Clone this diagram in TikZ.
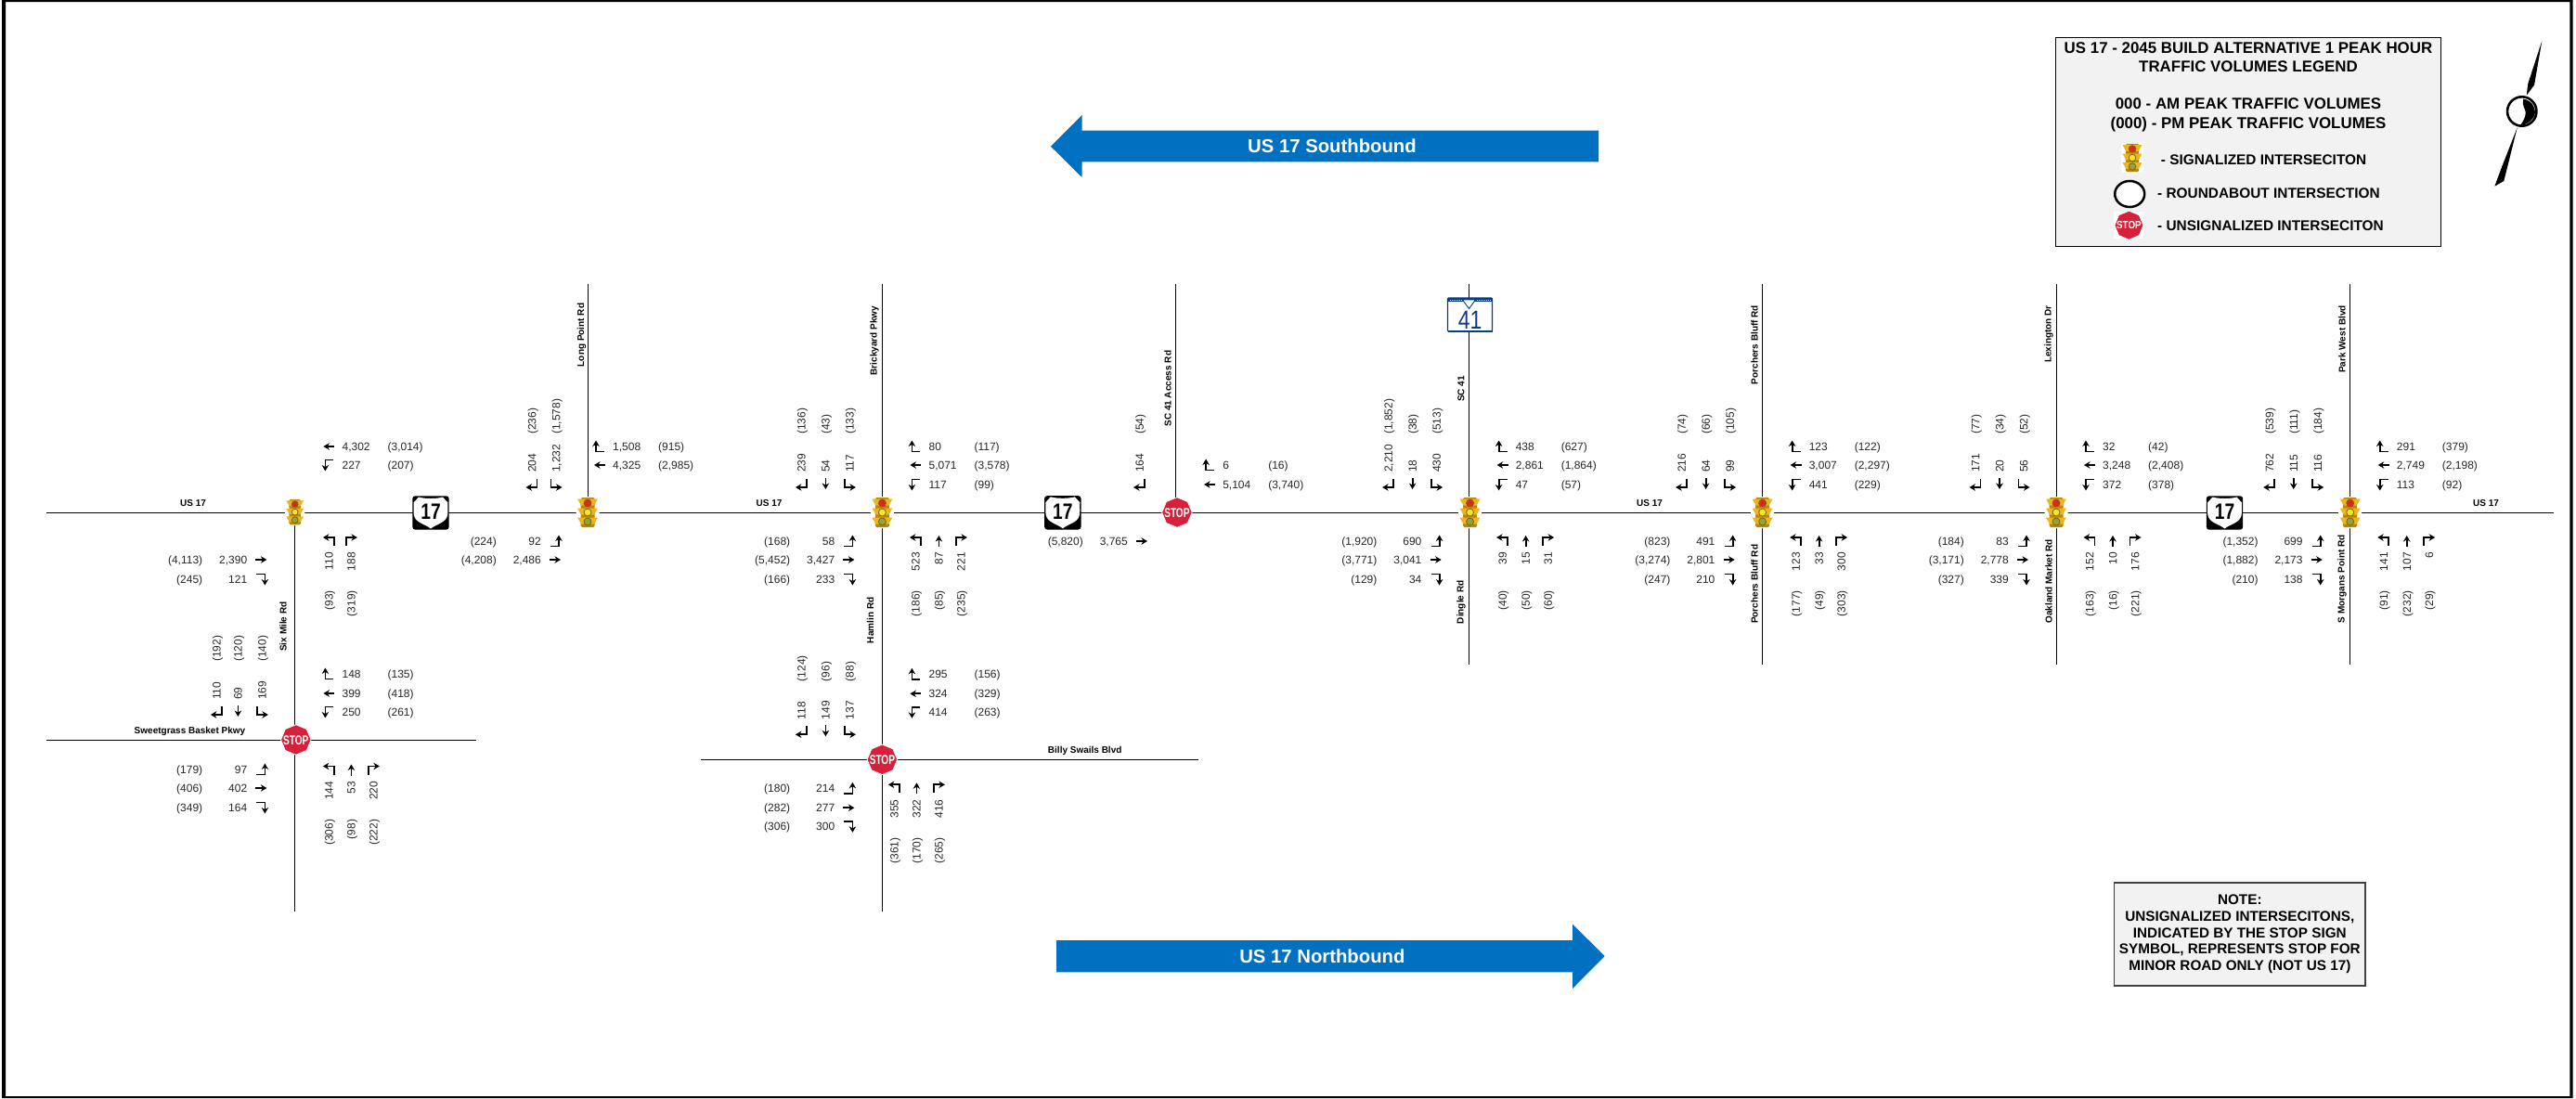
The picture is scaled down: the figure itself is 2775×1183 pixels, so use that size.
\documentclass[tikz,border=0pt]{standalone}
\usepackage{fontspec}
\setmainfont{Liberation Sans}
\usepackage{tikz}
\usetikzlibrary{arrows.meta,shapes.geometric}
\usepackage{xcolor}
\definecolor{usblue}{HTML}{0070C0}
\definecolor{boxgray}{HTML}{F2F2F2}
\definecolor{stopred}{HTML}{D9203A}
\definecolor{scblue}{HTML}{0B3C82}
\definecolor{siggold}{HTML}{EDB51C}
\definecolor{sigdark}{HTML}{B8860F}
\definecolor{sigred}{HTML}{E2231F}
\definecolor{sigyel}{HTML}{F2E62A}
\definecolor{siggrn}{HTML}{8CA63A}
\newcounter{lbl}
\newcommand{\stopword}[1]{\raisebox{-0.36em}[0pt][0pt]{\makebox[0pt]{\scalebox{#1}[1]{STOP}}}}
\tikzset{
pics/mvL/.style={code={\draw[mv] (5.5,5) -- (5.5,-4) -- (-6.5,-4);}},
pics/mvT/.style={code={\draw[mv] (0,6) -- (0,-6);}},
pics/mvR/.style={code={\draw[mv] (-5.5,5) -- (-5.5,-4) -- (6.5,-4);}},
pics/signal/.style={code={
\fill[white,rounded corners=3pt] (-12.5,-17) rectangle (12.5,17);
\foreach \yy/\lamp in {-10/sigred,0/sigyel,10/siggrn}{
\fill[sigdark,rounded corners=1.5pt] (-7.5,\yy-6) rectangle (7.5,\yy+6);
\fill[siggold] (-11,\yy-4.5) -- (11,\yy-4.5) -- (7,\yy+2.5) -- (-7,\yy+2.5) -- cycle;
\fill[\lamp,draw=sigdark!70!black,line width=0.8pt] (0,\yy) circle (4pt);
}}},
pics/usshield/.style={code={
\fill[black,rounded corners=3pt] (-19.7,-18.2) rectangle (19.7,18.2);
\fill[white] (-13,-17) .. controls (-7,-15) and (7,-15) .. (13,-17) -- (18.5,-11) .. controls (18,-6) and (19,-1) .. (18,3) .. controls (16,11) and (6,12) .. (0,17) .. controls (-6,12) and (-16,11) .. (-18,3) .. controls (-19,-1) and (-18,-6) .. (-18.5,-11) -- cycle;
\node[inner sep=0pt,font=\fontsize{24}{24}\selectfont\bfseries,xscale=0.8] (-num) at (0,-1) {17};
}},
pics/scshield/.style={code={
\draw[scblue,fill=white,line width=1.2pt,rounded corners=1pt] (-24,-18) rectangle (24,18);
\fill[scblue] (-24,-18) rectangle (24,-14);
\fill[scblue] (-24,16.5) rectangle (24,18.5);
\draw[white,line width=1pt,dash pattern=on 1pt off 1pt] (-22,-16) -- (-9,-16);
\draw[white,line width=1pt,dash pattern=on 1pt off 1pt] (7,-16) -- (22,-16);
\draw[scblue,fill=white,line width=0.9pt] (-8,-16) -- (6,-16) -- (-1,-6.5) -- cycle;
\node[inner sep=0pt,text=scblue,font=\fontsize{28}{28}\selectfont,xscale=0.82] (-num) at (0,6) {41};
}}
}
\newcommand{\wbrow}[5]{
\pic[rotate=90] at (#1,#2) {mv#3};
\stepcounter{lbl}\node[vol,anchor=west] (am\thelbl) at (#1+14,#2) {#4};
\node[vol,anchor=west] (pm\thelbl) at (#1+63,#2) {#5};
}
\newcommand{\ebrow}[5]{
\pic[rotate=-90] at (#1,#2) {mv#3};
\stepcounter{lbl}\node[vol,anchor=east] (am\thelbl) at (#1-15,#2) {#4};
\node[vol,anchor=east] (pm\thelbl) at (#1-63,#2) {#5};
}
\newcommand{\sbcol}[4]{
\pic[rotate=180] at (#1,-31) {mv#2};
\stepcounter{lbl}\node[vol,rotate=90,anchor=west] (am\thelbl) at (#1,-43) {#3};
\node[vol,rotate=90,anchor=west] (pm\thelbl) at (#1,-84) {#4};
}
\newcommand{\nbcol}[4]{
\pic at (#1,31) {mv#2};
\stepcounter{lbl}\node[vol,rotate=90,anchor=east] (am\thelbl) at (#1,43) {#3};
\node[vol,rotate=90,anchor=east] (pm\thelbl) at (#1,84) {#4};
}
\begin{document}
\begin{tikzpicture}[x=1pt,y=-1pt,>={Stealth[length=6.5pt,width=7.5pt]},line cap=butt,
mv/.style={->,line width=1.8pt,black},
road/.style={line width=1.3pt,black},
vol/.style={inner sep=0pt,text height=8.6pt,text depth=0pt,text=black!85,font=\fontsize{12}{14}\selectfont},
streetname/.style={inner sep=0pt,font=\fontsize{10}{12}\selectfont\bfseries},
sidename/.style={streetname,rotate=90},
stopsign/.style={regular polygon,regular polygon sides=8,shape border rotate=22.5,minimum size=32.5pt,inner sep=0pt,fill=stopred,draw=white,line width=0.8pt,text=white,font=\fontsize{14}{14}\selectfont\bfseries},
boxed/.style={fill=boxgray,line width=1.5pt,inner sep=0pt},
bigarrow/.style={fill=usblue},
bigname/.style={inner sep=0pt,text=white,font=\fontsize{20.3}{22}\selectfont\bfseries},
legline/.style={inner sep=0pt,align=center,font=\fontsize{16.9}{20.5}\selectfont\bfseries},
legitem/.style={inner sep=0pt,anchor=west,font=\fontsize{15.4}{17}\selectfont\bfseries}]
\useasboundingbox (0,0) rectangle (2775,1183);
\fill[black,even odd rule] (2,0) rectangle (2771.7,1183) (6,2) rectangle (2768.3,1181);
\coordinate (usW) at (50,552.5);
\coordinate (usE) at (2751,552.5);
\coordinate (sweetW) at (50,797.5);
\coordinate (sweetE) at (512.5,797.5);
\coordinate (billyW) at (755,818.5);
\coordinate (billyE) at (1290.6,818.5);
\draw[road] (usW) -- (usE);
\draw[road] (sweetW) -- (sweetE);
\draw[road] (billyW) -- (billyE);
\draw[road] (317.5,552) -- (317.5,982);
\draw[road] (633.5,306) -- (633.5,552);
\draw[road] (950.5,306) -- (950.5,982);
\draw[road] (1266.5,306) -- (1266.5,552);
\draw[road] (1582.5,306) -- (1582.5,716);
\draw[road] (1898.5,306) -- (1898.5,716);
\draw[road] (2215.5,306) -- (2215.5,716);
\draw[road] (2531.5,306) -- (2531.5,716);
\fill[bigarrow] (1131.9,157.7) -- (1165.5,124) -- (1165.5,140.7) -- (1722,140.7) -- (1722,174.3) -- (1165.5,174.3) -- (1165.5,191) -- cycle;
\node[bigname] (sbname) at (1435,157.7) {US 17 Southbound};
\fill[bigarrow] (1138.2,1013) -- (1694,1013) -- (1694,995.7) -- (1728.7,1030) -- (1694,1065) -- (1694,1047.3) -- (1138.2,1047.3) -- cycle;
\node[bigname] (nbname) at (1424.4,1030.7) {US 17 Northbound};
\pic[scale=0.85] (sigA) at (317.7,551.7) {signal};
\pic (sigB) at (633,552) {signal};
\pic (sigC) at (950.4,552) {signal};
\pic (sigD) at (1583.5,552) {signal};
\pic (sigE) at (1898.6,552) {signal};
\pic (sigF) at (2215,552) {signal};
\pic (sigG) at (2531.7,552) {signal};
\node[stopsign] (stopA) at (318.8,797) {\stopword{0.72}};
\node[stopsign] (stopB) at (950.4,818.3) {\stopword{0.72}};
\node[stopsign] (stopC) at (1267.9,552) {\stopword{0.72}};
\pic (shieldA) at (464,552.5) {usshield};
\pic (shieldB) at (1144.8,552.3) {usshield};
\pic (shieldC) at (2396.5,552.5) {usshield};
\pic (shieldD) at (1583.5,339) {scshield};
\node[streetname] (usA) at (208,542) {US 17};
\node[streetname] (usB) at (828.6,542) {US 17};
\node[streetname] (usC) at (1777,542) {US 17};
\node[streetname] (usD) at (2678,542) {US 17};
\node[streetname] (sweet) at (204.5,787.7) {Sweetgrass Basket Pkwy};
\node[streetname] (billy) at (1168.7,808.5) {Billy Swails Blvd};
\node[sidename] (sixmile) at (305,675) {Six Mile Rd};
\node[sidename] (longpoint) at (626.6,361) {Long Point Rd};
\node[sidename] (brickyard) at (942,367) {Brickyard Pkwy};
\node[sidename] (hamlin) at (937.5,668.3) {Hamlin Rd};
\node[sidename] (access) at (1258,418.7) {SC 41 Access Rd};
\node[sidename] (sc) at (1574,419) {SC 41};
\node[sidename] (dingle) at (1574,648.8) {Dingle Rd};
\node[sidename] (porchN) at (1890,371.5) {Porchers Bluff Rd};
\node[sidename] (porchS) at (1890,629.3) {Porchers Bluff Rd};
\node[sidename] (lexington) at (2207,360) {Lexington Dr};
\node[sidename] (oakland) at (2207,626.3) {Oakland Market Rd};
\node[sidename] (parkwest) at (2523,365.5) {Park West Blvd};
\node[sidename] (morgans) at (2523,623.8) {S Morgans Point Rd};
\begin{scope}[shift={(317.4,552)}]
\wbrow{37}{-71}{T}{4,302}{(3,014)}
\wbrow{37}{-51}{L}{227}{(207)}
\ebrow{-36}{51}{T}{2,390}{(4,113)}
\ebrow{-36}{72}{R}{121}{(245)}
\nbcol{37}{L}{110}{(93)}
\nbcol{61}{R}{188}{(319)}
\end{scope}
\begin{scope}[shift={(633,552)}]
\wbrow{13}{-71}{R}{1,508}{(915)}
\wbrow{13}{-51}{T}{4,325}{(2,985)}
\ebrow{-35}{31}{L}{92}{(224)}
\ebrow{-35}{51}{T}{2,486}{(4,208)}
\sbcol{-60}{R}{204}{(236)}
\sbcol{-34}{L}{1,232}{(1,578)}
\end{scope}
\begin{scope}[shift={(950.4,552)}]
\wbrow{36}{-71}{R}{80}{(117)}
\wbrow{36}{-51}{T}{5,071}{(3,578)}
\wbrow{36}{-30}{L}{117}{(99)}
\ebrow{-36}{31}{L}{58}{(168)}
\ebrow{-36}{51}{T}{3,427}{(5,452)}
\ebrow{-36}{72}{R}{233}{(166)}
\sbcol{-87}{R}{239}{(136)}
\sbcol{-61}{T}{54}{(43)}
\sbcol{-35}{L}{117}{(133)}
\nbcol{36}{L}{523}{(186)}
\nbcol{61}{T}{87}{(85)}
\nbcol{85}{R}{221}{(235)}
\end{scope}
\begin{scope}[shift={(950.4,818.3)}]
\wbrow{36}{-92}{R}{295}{(156)}
\wbrow{36}{-71}{T}{324}{(329)}
\wbrow{36}{-51}{L}{414}{(263)}
\ebrow{-36}{31}{L}{214}{(180)}
\ebrow{-36}{52}{T}{277}{(282)}
\ebrow{-36}{72}{R}{300}{(306)}
\sbcol{-87}{R}{118}{(124)}
\sbcol{-61}{T}{149}{(96)}
\sbcol{-35}{L}{137}{(88)}
\nbcol{13}{L}{355}{(361)}
\nbcol{37}{T}{322}{(170)}
\nbcol{61}{R}{416}{(265)}
\end{scope}
\begin{scope}[shift={(317.4,797)}]
\wbrow{37}{-71}{R}{148}{(135)}
\wbrow{37}{-50}{T}{399}{(418)}
\wbrow{37}{-30}{L}{250}{(261)}
\ebrow{-36}{32}{L}{97}{(179)}
\ebrow{-36}{52}{T}{402}{(406)}
\ebrow{-36}{73}{R}{164}{(349)}
\sbcol{-84}{R}{110}{(192)}
\sbcol{-61}{T}{69}{(120)}
\sbcol{-35}{L}{169}{(140)}
\end{scope}
\begin{scope}[shift={(317.4,798.5)}]
\nbcol{37}{L}{144}{(306)}
\nbcol{61}{T}{53}{(98)}
\nbcol{85}{R}{220}{(222)}
\end{scope}
\begin{scope}[shift={(1266.5,552)}]
\wbrow{36.6}{-51}{R}{6}{(16)}
\wbrow{36.6}{-30}{T}{5,104}{(3,740)}
\ebrow{-36.5}{31}{T}{3,765}{(5,820)}
\sbcol{-39}{R}{164}{(54)}
\end{scope}
\begin{scope}[shift={(1582.6,552)}]
\wbrow{36}{-71}{R}{438}{(627)}
\wbrow{36}{-51}{T}{2,861}{(1,864)}
\wbrow{36}{-30}{L}{47}{(57)}
\ebrow{-36}{31}{L}{690}{(1,920)}
\ebrow{-36}{51}{T}{3,041}{(3,771)}
\ebrow{-36}{72}{R}{34}{(129)}
\sbcol{-87}{R}{2,210}{(1,852)}
\sbcol{-61}{T}{18}{(38)}
\sbcol{-35}{L}{430}{(513)}
\nbcol{36}{L}{39}{(40)}
\nbcol{61}{T}{15}{(50)}
\nbcol{85}{R}{31}{(60)}
\end{scope}
\begin{scope}[shift={(1898.6,552)}]
\wbrow{36}{-71}{R}{123}{(122)}
\wbrow{36}{-51}{T}{3,007}{(2,297)}
\wbrow{36}{-30}{L}{441}{(229)}
\ebrow{-36}{31}{L}{491}{(823)}
\ebrow{-36}{51}{T}{2,801}{(3,274)}
\ebrow{-36}{72}{R}{210}{(247)}
\sbcol{-87}{R}{216}{(74)}
\sbcol{-61}{T}{64}{(66)}
\sbcol{-35}{L}{99}{(105)}
\nbcol{36}{L}{123}{(177)}
\nbcol{61}{T}{33}{(49)}
\nbcol{85}{R}{300}{(303)}
\end{scope}
\begin{scope}[shift={(2215,552)}]
\wbrow{36}{-71}{R}{32}{(42)}
\wbrow{36}{-51}{T}{3,248}{(2,408)}
\wbrow{36}{-30}{L}{372}{(378)}
\ebrow{-36}{31}{L}{83}{(184)}
\ebrow{-36}{51}{T}{2,778}{(3,171)}
\ebrow{-36}{72}{R}{339}{(327)}
\sbcol{-87}{R}{171}{(77)}
\sbcol{-61}{T}{20}{(34)}
\sbcol{-35}{L}{56}{(52)}
\nbcol{36}{L}{152}{(163)}
\nbcol{61}{T}{10}{(16)}
\nbcol{85}{R}{176}{(221)}
\end{scope}
\begin{scope}[shift={(2531.7,552)}]
\wbrow{36}{-71}{R}{291}{(379)}
\wbrow{36}{-51}{T}{2,749}{(2,198)}
\wbrow{36}{-30}{L}{113}{(92)}
\ebrow{-36}{31}{L}{699}{(1,352)}
\ebrow{-36}{51}{T}{2,173}{(1,882)}
\ebrow{-36}{72}{R}{138}{(210)}
\sbcol{-87}{R}{762}{(539)}
\sbcol{-61}{T}{115}{(111)}
\sbcol{-35}{L}{116}{(184)}
\nbcol{36}{L}{141}{(91)}
\nbcol{61}{T}{107}{(232)}
\nbcol{85}{R}{6}{(29)}
\end{scope}
\draw[boxed,draw=black] (2214.6,40.7) rectangle (2629.6,265.3);
\node[legline] (legtitle) at (2422,61.6) {US 17 - 2045 BUILD ALTERNATIVE 1 PEAK HOUR\\TRAFFIC VOLUMES LEGEND};
\node[legline] (legam) at (2422,124) {000 - AM PEAK TRAFFIC VOLUMES\\(000) - PM PEAK TRAFFIC VOLUMES};
\pic[scale=0.95] (legsig) at (2297,170) {signal};
\node[legitem] (legsigtext) at (2327.7,171.7) {- SIGNALIZED INTERSECITON};
\draw[black,fill=white,line width=2.5pt] (2294.2,209) ellipse (16pt and 14pt);
\node[legitem] (legroundtext) at (2324,208) {- ROUNDABOUT INTERSECTION};
\fill[white] (2277.4,228.2) rectangle (2309.4,257.2);
\node[stopsign,minimum size=31pt,font=\fontsize{11.6}{12}\selectfont\bfseries] (legstop) at (2293.4,242.7) {\stopword{0.85}};
\node[legitem] (legstoptext) at (2324,243) {- UNSIGNALIZED INTERSECITON};
\node[boxed,draw=black!75,minimum width=270.3pt,minimum height=111.3pt,align=center,font=\fontsize{15.3}{17.6}\selectfont\bfseries] (note) at (2412.8,1006.4) {NOTE:\\UNSIGNALIZED INTERSECITONS,\\INDICATED BY THE STOP SIGN\\SYMBOL, REPRESENTS STOP FOR\\MINOR ROAD ONLY (NOT US 17)};
\fill[black] (2738.3,44) -- (2730,91.7) -- (2721.7,102.7) -- (2723.3,90) -- cycle;
\fill[black] (2711.7,137.3) -- (2697.3,195) -- (2687.3,200.7) -- (2695,180) -- cycle;
\draw[black,line width=2.6pt] (2716.7,120) circle (15.7pt);
\fill[black] (2718.3,106.7) .. controls (2727,108) and (2731,115) .. (2731,121) .. controls (2730,129) and (2723,134) .. (2715,135) .. controls (2720,128) and (2722,122) .. (2720,118) .. controls (2718,114) and (2717,110) .. (2718.3,106.7) -- cycle;
\end{tikzpicture}
\end{document}
